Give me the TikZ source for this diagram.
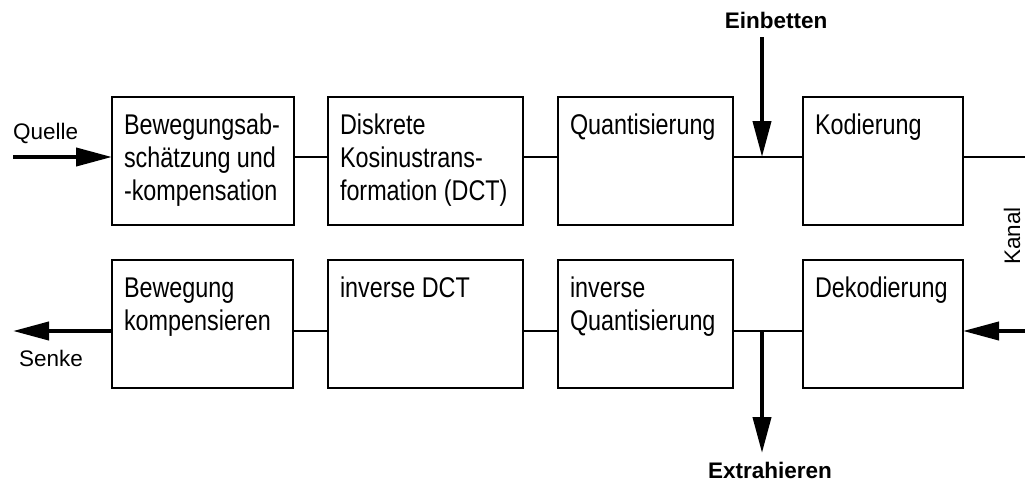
\documentclass[tikz,border=0pt]{standalone}
\usepackage{fontspec}
\setmainfont{Liberation Sans}
\newfontfamily\narrowfont{Liberation Sans}[FakeStretch=0.82]
\usepackage{tikz}
\usetikzlibrary{arrows.meta}
\hyphenpenalty=10000

\begin{document}
\begin{tikzpicture}
	[x=1pt, y=-1pt,
	block/.style={rectangle, draw, line width=2.5pt, anchor=north west, outer sep=0pt, inner xsep=12pt, inner ysep=0pt, align=flush left, text height=37pt, text depth=91pt, font=\narrowfont\fontsize{28.5}{33}\selectfont},
	conn/.style={line width=2.5pt},
	pfeil/.style={line width=4pt, -{Triangle[length=36pt, width=18pt]}},
	txt/.style={font=\fontsize{22.5}{26}\selectfont, inner sep=0pt},
	fett/.style={font=\fontsize{22.5}{26}\selectfont\bfseries, inner sep=0pt}]
	\useasboundingbox (0,0) rectangle (1025,482);
	\coordinate (oben) at (0,157);
	\coordinate (unten) at (0,331);
	% Kodierer
	\node [block, text width=158pt] (bewegung) at (112,97) {Bewegungsab-\\schätzung und\\-kompensation};
	\node [block, text width=171pt] (dct) at (328,97) {Diskrete\\Kosinustrans-\\formation (DCT)};
	\node [block, text width=151pt] (quant) at (558,97) {Quantisierung};
	\node [block, text width=136pt] (kodierung) at (803,97) {Kodierung};
	% Dekodierer
	\node [block, text width=157pt] (bewkomp) at (112,260) {Bewegung\\kompensieren};
	\node [block, text width=171pt] (idct) at (328,260) {inverse DCT};
	\node [block, text width=151pt] (iquant) at (558,260) {inverse\\Quantisierung};
	\node [block, text width=136pt] (dekodierung) at (803,260) {Dekodierung};
	% Texte
	\node [txt, anchor=base west] (quelle) at (13,139) {Quelle};
	\node [txt, anchor=base west] (senke) at (19,366) {Senke};
	\node [fett, anchor=base] (einbetten) at (776,28) {Einbetten};
	\node [fett, anchor=base] (extrahieren) at (770,478) {Extrahieren};
	\node [txt, rotate=90] (kanal) at (1012,236) {Kanal};
	\coordinate (quellstart) at (13,157);
	\coordinate (senkende) at (13,331);
	\coordinate (einstart) at (762,37);
	\coordinate (einpunkt) at (762,157);
	\coordinate (auspunkt) at (762,331);
	\coordinate (ausende) at (762,453);
	\coordinate (kanaloben) at (1025,157);
	\coordinate (kanalunten) at (1025,331);
	% Verbindungen
	\draw [pfeil] (quellstart) -- (bewegung.west |- oben);
	\draw [conn] (bewegung.east |- oben) -- (dct.west |- oben);
	\draw [conn] (dct.east |- oben) -- (quant.west |- oben);
	\draw [conn] (quant.east |- oben) -- (kodierung.west |- oben);
	\draw [conn] (kodierung.east |- oben) -- (kanaloben);
	\draw [pfeil] (einstart) -- (einpunkt);
	\draw [pfeil] (kanalunten) -- (dekodierung.east |- unten);
	\draw [conn] (dekodierung.west |- unten) -- (iquant.east |- unten);
	\draw [conn] (iquant.west |- unten) -- (idct.east |- unten);
	\draw [conn] (idct.west |- unten) -- (bewkomp.east |- unten);
	\draw [pfeil] (bewkomp.west |- unten) -- (senkende);
	\draw [pfeil] (auspunkt) -- (ausende);
\end{tikzpicture}
\end{document}
